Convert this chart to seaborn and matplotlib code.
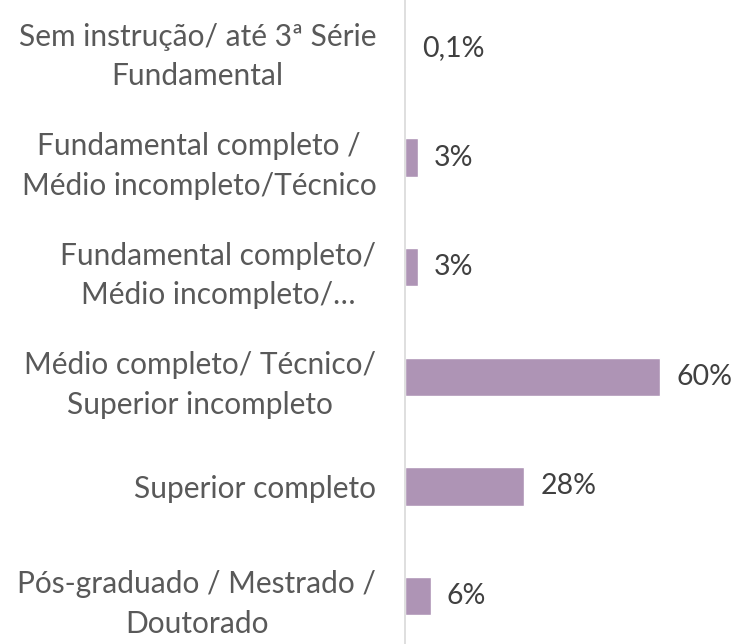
import matplotlib
matplotlib.use("Agg")
import matplotlib.pyplot as plt
import seaborn as sns
import pandas as pd

# Escolaridade dos respondentes (%)
categorias = [
    "Sem instrução/ até 3ª Série\nFundamental",
    "Fundamental completo /\nMédio incompleto/Técnico",
    "Fundamental completo/\nMédio incompleto/…",
    "Médio completo/ Técnico/\nSuperior incompleto",
    "Superior completo",
    "Pós-graduado / Mestrado /\nDoutorado",
]
valores = [0.1, 3, 3, 60, 28, 6]
rotulos = ["0,1%", "3%", "3%", "60%", "28%", "6%"]

sns.set_theme(style="white")
plt.rcParams["font.family"] = ["Lato", "DejaVu Sans"]

df = pd.DataFrame({"categoria": categorias, "valor": valores})

fig = plt.figure(figsize=(7.39, 6.44), dpi=100)
ax = fig.add_axes([0.5487, 0.0, 0.4513, 1.0])

sns.barplot(data=df, x="valor", y="categoria", orient="h", color="#ae94b5",
            saturation=1, width=0.35, ax=ax)

ax.set_xlim(0, 78.5)
ax.set_ylim(len(categorias) - 1 + 0.438, -0.438)

ax.bar_label(ax.containers[0], labels=rotulos, padding=11.5,
             fontsize=20.5, color="#404040")

ax.set_xlabel("")
ax.set_ylabel("")
ax.set_xticks([])
ax.tick_params(axis="y", length=0, pad=21, labelsize=21.5, labelcolor="#595959")
for lbl in ax.get_yticklabels():
    lbl.set_multialignment("center")
    lbl.set_linespacing(1.5)

for s in ["top", "right", "bottom"]:
    ax.spines[s].set_visible(False)
ax.spines["left"].set_color("#d9d9d9")
ax.spines["left"].set_linewidth(1.2)

fig.savefig("out.png", dpi=100)
